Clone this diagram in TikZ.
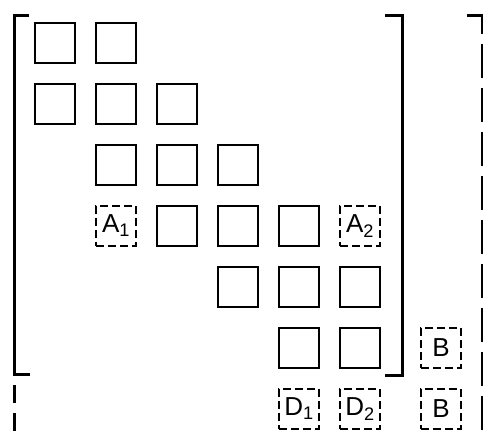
\documentclass[tikz,border=0pt]{standalone}
\usepackage{fontspec}
\setmainfont{Liberation Sans}
\tikzset{every node/.style={font=\fontsize{26}{26}\selectfont}}

\begin{document}
\begin{tikzpicture}[x=1pt, y=-1pt,
  blk/.style={draw, line width=1.5pt, minimum size=40pt, inner sep=0pt},
  dblk/.style={blk, dash pattern=on 8pt off 4pt},
  brk/.style={line width=3pt}]
  \useasboundingbox (0,0) rectangle (483,434);

  % Solid blocks, given as row/column.
  \foreach \r/\c [count=\i] in {1/1,1/2, 2/1,2/2,2/3, 3/2,3/3,3/4,
      4/3,4/4,4/5, 5/4,5/5,5/6, 6/5,6/6}
    \node[blk] (b\i) at ({-6+61*\c},{-18+61*\r}) {};

  % Dashed blocks.
  \node[dblk] (A1) at (116,226) {A\textsubscript{1}};
  \node[dblk] (A2) at (360,226) {A\textsubscript{2}};
  \node[dblk] (D1) at (299,409) {D\textsubscript{1}};
  \node[dblk] (D2) at (360,409) {D\textsubscript{2}};
  \node[dblk] (B1) at (441,348) {B};
  \node[dblk] (B2) at (441,409) {B};

  % Brackets.
  \draw[brk] (29,15) -- (14,15) -- (14,374) -- (30,374);
  \draw[brk, dash pattern=on 18pt off 10pt] (14,385) -- (14,434);
  \draw[brk] (385,15) -- (402,15) -- (402,375) -- (385,375);
  \draw[brk, dash pattern=on 34pt off 10pt] (467,15) -- (482,15) -- (482,434);

\end{tikzpicture}
\end{document}
